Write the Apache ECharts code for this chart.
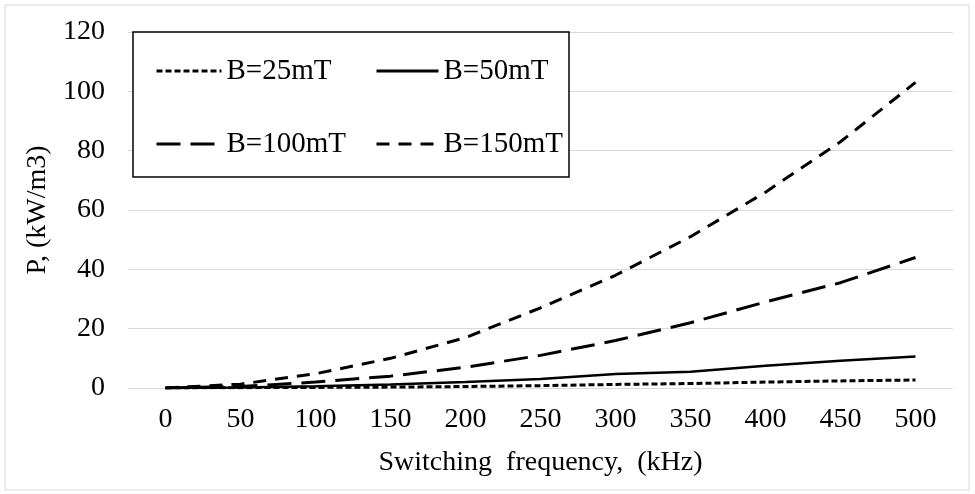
<!DOCTYPE html>
<html>
<head>
<meta charset="utf-8">
<script src="https://cdn.jsdelivr.net/npm/echarts@6/dist/echarts.min.js"></script>
<style>
  html, body { margin: 0; padding: 0; background: #fff; }
  #main { width: 975px; height: 494px; }
</style>
</head>
<body>
<div id="main"></div>
<script>
// switching frequency (kHz)
var freq = ['0', '50', '100', '150', '200', '250', '300', '350', '400', '450', '500'];
// core loss P (kW/m3) per flux density
var b25 = [0, 0.1, 0.2, 0.3, 0.5, 0.8, 1.2, 1.5, 2.0, 2.4, 2.7];
var b50 = [0, 0.2, 0.6, 1.2, 2.0, 3.0, 4.7, 5.5, 7.5, 9.2, 10.6];
var b100 = [0, 0.5, 2.0, 4.0, 7.0, 11, 16, 22, 29, 35.5, 44];
var b150 = [0, 1.3, 4.8, 10, 17, 27, 38, 51, 66, 83, 103];

var font = 'Liberation Serif, Times New Roman, serif';
var chart = echarts.init(document.getElementById('main'));

function line(name, data, type, w) {
  return {
    name: name,
    type: 'line',
    data: data,
    symbol: 'none',
    smooth: false,
    itemStyle: { color: '#000' },
    lineStyle: { color: '#000', width: w, type: type }
  };
}

var legendText = { fontFamily: font, fontSize: 29, lineHeight: 30, color: '#000' };

var option = {
  backgroundColor: '#fff',
  animation: false,
  textStyle: { fontFamily: font },
  grid: { left: 128, right: 22, top: 32, bottom: 106 },
  graphic: [
    { type: 'rect', shape: { x: 5, y: 5, width: 964, height: 485 },
      style: { fill: 'none', stroke: '#d9d9d9', lineWidth: 1 }, z: 0 },
    { type: 'rect', shape: { x: 133, y: 32, width: 436, height: 145 },
      style: { fill: '#fff', stroke: '#000', lineWidth: 1.5 }, z: 10 }
  ],
  legend: [
    {
      data: ['B=25mT', 'B=100mT'],
      orient: 'vertical', left: 150, top: 51,
      itemWidth: 65, itemHeight: 14, itemGap: 43,
      itemStyle: { opacity: 0 },
      lineStyle: { width: 3 },
      textStyle: legendText,
      z: 20
    },
    {
      data: ['B=50mT', 'B=150mT'],
      orient: 'vertical', left: 370, top: 51,
      itemWidth: 62, itemHeight: 14, itemGap: 43,
      itemStyle: { opacity: 0 },
      lineStyle: { width: 3 },
      textStyle: legendText,
      z: 20
    }
  ],
  xAxis: {
    type: 'category',
    data: freq,
    boundaryGap: true,
    name: 'Switching  frequency,  (kHz)',
    nameLocation: 'middle',
    nameGap: 61,
    nameTextStyle: { fontFamily: font, fontSize: 28, color: '#000' },
    axisLine: { show: false },
    axisTick: { show: false },
    axisLabel: { fontFamily: font, fontSize: 28, color: '#000', margin: 18 }
  },
  yAxis: {
    type: 'value',
    min: 0, max: 120, interval: 20,
    name: 'P, (kW/m3)',
    nameLocation: 'middle',
    nameGap: 68,
    nameTextStyle: { fontFamily: font, fontSize: 28, color: '#000' },
    axisLine: { show: false },
    axisTick: { show: false },
    axisLabel: { fontFamily: font, fontSize: 28, color: '#000', margin: 23 },
    splitLine: { lineStyle: { color: '#d9d9d9', width: 1 } }
  },
  series: [
    line('B=25mT', b25, [6, 3], 3),
    line('B=50mT', b50, 'solid', 2.5),
    line('B=100mT', b100, [24, 10], 3),
    line('B=150mT', b150, [13, 9], 3)
  ]
};

chart.setOption(option);
</script>
</body>
</html>
